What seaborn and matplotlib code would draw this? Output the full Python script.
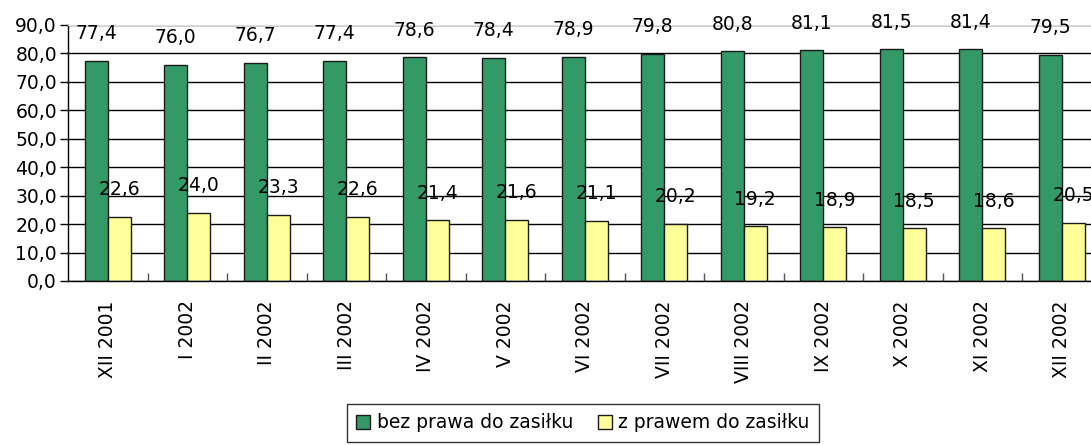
import pandas as pd
import matplotlib
matplotlib.use("Agg")
import matplotlib.pyplot as plt
from matplotlib.ticker import FuncFormatter, FixedLocator
import seaborn as sns

months = ["XII 2001", "I 2002", "II 2002", "III 2002", "IV 2002", "V 2002", "VI 2002",
          "VII 2002", "VIII 2002", "IX 2002", "X 2002", "XI 2002", "XII 2002"]
bez_prawa = [77.4, 76.0, 76.7, 77.4, 78.6, 78.4, 78.9, 79.8, 80.8, 81.1, 81.5, 81.4, 79.5]
z_prawem = [22.6, 24.0, 23.3, 22.6, 21.4, 21.6, 21.1, 20.2, 19.2, 18.9, 18.5, 18.6, 20.5]
series = ["bez prawa do zasiłku", "z prawem do zasiłku"]
colors = ["#339966", "#FFFF99"]

df = pd.DataFrame({
    "miesiac": months * 2,
    "wartosc": bez_prawa + z_prawem,
    "grupa": [series[0]] * len(months) + [series[1]] * len(months),
})

sns.set_style("white")
plt.rcParams["font.family"] = ["DejaVu Sans"]
plt.rcParams["text.color"] = "black"
plt.rcParams["xtick.color"] = "black"
plt.rcParams["ytick.color"] = "black"
plt.rcParams["xtick.labelcolor"] = "black"
plt.rcParams["ytick.labelcolor"] = "black"
fs = 13.5

fig = plt.figure(figsize=(10.91, 4.45), dpi=100)
ax = fig.add_axes([68 / 1091, 164 / 445, 1033.5 / 1091, 256 / 445])

sns.barplot(data=df, x="miesiac", y="wartosc", hue="grupa", order=months,
            hue_order=series, palette=colors, width=0.58, saturation=1,
            edgecolor="#1a1a1a", linewidth=1, ax=ax, legend=True)

ax.set_ylim(0, 90)
ax.set_xlim(-0.5, len(months) - 0.5)
ax.set_yticks(range(0, 91, 10))
ax.yaxis.set_major_formatter(FuncFormatter(lambda v, p: f"{v:.1f}".replace(".", ",")))
ax.grid(axis="y", color="black", linewidth=1)
ax.set_axisbelow(True)
ax.set_xlabel("")
ax.set_ylabel("")

ax.spines["right"].set_visible(False)
ax.spines["top"].set_color("#dddddd")
ax.spines["left"].set_color("black")
ax.spines["bottom"].set_color("black")
ax.spines["left"].set_linewidth(1)
ax.spines["bottom"].set_linewidth(1)

ax.tick_params(axis="y", left=True, length=6, width=1, color="black",
               labelcolor="black", labelsize=fs, pad=2)
ax.tick_params(axis="x", which="major", length=0, labelsize=fs, labelcolor="black",
               labelrotation=90, pad=14)
ax.xaxis.set_minor_locator(FixedLocator([i + 0.5 for i in range(len(months))]))
ax.tick_params(axis="x", which="minor", bottom=True, direction="in", length=6,
               width=1, color="#555555")
for lab in ax.get_xticklabels():
    lab.set_va("top")

for cont in ax.containers:
    for bar in cont:
        h = bar.get_height()
        ax.annotate(f"{h:.1f}".replace(".", ","),
                    (bar.get_x() + bar.get_width() / 2, h),
                    xytext=(0, 19.5), textcoords="offset points",
                    ha="center", va="center", fontsize=fs, color="black",
                    annotation_clip=False)

handles, labels = ax.get_legend_handles_labels()
ax.get_legend().remove()
leg = fig.legend(handles, labels, loc="center", bbox_to_anchor=(583 / 1091, 22 / 445),
                 ncol=2, fontsize=fs, frameon=True, fancybox=False, edgecolor="black",
                 handlelength=0.75, handleheight=0.75, handletextpad=0.35,
                 columnspacing=1.3, borderpad=0.5, borderaxespad=0, labelcolor="black")
leg.get_frame().set_linewidth(1)

fig.savefig("out.png", dpi=100)
